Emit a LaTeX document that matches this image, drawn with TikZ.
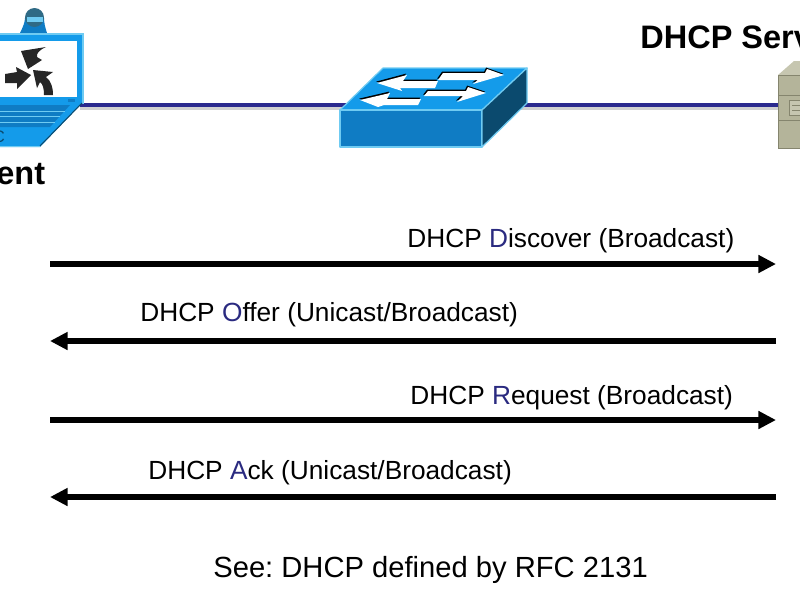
\documentclass[tikz,border=0pt]{standalone}
\usepackage{fontspec}
\setmainfont{Liberation Sans}
\usetikzlibrary{arrows.meta}
\definecolor{linknavy}{HTML}{2B2A8E}
\definecolor{letternavy}{HTML}{2A2A80}
\definecolor{ciscoblue}{HTML}{149BEA}
\definecolor{ciscofront}{HTML}{0F7CC4}
\definecolor{ciscoside}{HTML}{0B4A6E}
\definecolor{ciscoedge}{HTML}{6FCBF2}
\definecolor{camerahead}{HTML}{2F6A85}
\definecolor{serverbody}{HTML}{B4B49A}
\definecolor{servertop}{HTML}{C6C6B0}
\definecolor{serveredge}{HTML}{85856E}
\newcommand{\firstletter}[1]{\textcolor{letternavy}{#1}}
\frenchspacing
\begin{document}
\begin{tikzpicture}[
        x=0.02cm, y=-0.02cm,
        msgarrow/.style={black, line width=2.9pt, -{Triangle[length=10pt,width=9.7pt]}},
        msglabel/.style={anchor=base west, inner sep=0pt, font=\fontsize{14.95}{18}\selectfont},
        devicelabel/.style={anchor=base west, inner sep=0pt, font=\fontsize{18.5}{22}\selectfont\bfseries},
        devicebox/.style={draw=ciscoedge, line width=0.7pt, line join=round},
        switcharrow/.style={fill=white, preaction={fill=black, transform canvas={xshift=-0.5pt, yshift=0.8pt}}},
        serverbox/.style={fill=serverbody, draw=serveredge, line width=0.4pt}
    ]
    \useasboundingbox (0,0) rectangle (800,600);

    % ==========================================
    % LINK: client - switch - server
    % ==========================================
    \coordinate (clientport) at (80,105);
    \coordinate (serverport) at (778,105);
    \draw[black!18, line width=2pt] ([yshift=-1.8pt]clientport) -- ([yshift=-1.8pt]serverport);
    \draw[linknavy, line width=2.6pt] (clientport) -- (serverport);

    % ==========================================
    % CLIENT: laptop
    % ==========================================
    \begin{scope}
        % camera
        \fill[ciscofront] (20,33) .. controls (23,27) and (25,22) .. (25,18) -- (44,18) .. controls (44,22) and (45,27) .. (47,33) -- cycle;
        \fill[camerahead] (34.5,17.5) circle (9.5);
        \fill[ciscoedge] (27,17) rectangle (43,22);
        % screen
        \fill[ciscoblue] (0,33) -- (84,33) -- (84,104) -- (0,104) -- cycle;
        \fill[ciscoedge] (0,33) rectangle (84,35);
        \fill[ciscoedge] (82,33) rectangle (84,104);
        \fill[white] (0,41) rectangle (77,97);
        \fill[ciscofront] (68,99) rectangle (75,102);
        \fill[black!85] (21,51) -- (46,47) .. controls (39,50) and (36,54) .. (37,57) -- (42,60) -- (28,69) -- cycle;
        \fill[black!85] (5,74) -- (17,72) -- (16,67) -- (31,75) -- (17,89) -- (17,83) -- (5,83) -- cycle;
        \fill[black!85] (33,70) -- (53,72) -- (46,77) .. controls (51,81) and (53,87) .. (53,95) -- (44,95) .. controls (44,89) and (43,84) .. (40,82) -- (37,88) -- cycle;
        % keyboard and base
        \fill[ciscoblue] (0,103) -- (82,103) -- (40,147) -- (0,147) -- cycle;
        \fill[ciscofront] (0,105) -- (70,105) -- (50,127) -- (0,127) -- cycle;
        \draw[ciscoedge, line width=0.5pt] (0,111) -- (65,111) (0,116) -- (60,116) (0,122) -- (55,122);
        \draw[ciscoside, line width=0.6pt] (40,146) -- (82,103);
        \draw[ciscoedge, line width=0.6pt] (0,146.5) -- (40,146.5);
        \node[anchor=base, inner sep=0pt, text=ciscoside, font=\fontsize{9.5}{11}\selectfont] (laptoptag) at (-1,142) {C};
    \end{scope}
    \node[devicelabel] (clientlabel) at (-4,184) {ent};

    % ==========================================
    % SWITCH
    % ==========================================
    \begin{scope}
        \filldraw[devicebox, fill=ciscoblue] (340,110) -- (383,68) -- (527,68) -- (482,110) -- cycle;
        \filldraw[devicebox, fill=ciscofront] (340,110) rectangle (482,147);
        \filldraw[devicebox, fill=ciscoside] (482,110) -- (527,68) -- (527,103) -- (482,147) -- cycle;
        % arrows on top
        \path[switcharrow] (377,83) -- (407,75) -- (403,81) -- (438,81) -- (435,88) -- (400,88) -- (402,91) -- cycle;
        \path[switcharrow] (504,75) -- (487,69) -- (485,73) -- (443,73) -- (438,80) -- (478,80) -- (473,84) -- cycle;
        \path[switcharrow] (360,100) -- (390,93) -- (387,99) -- (421,99) -- (418,105) -- (384,105) -- (378,107) -- cycle;
        \path[switcharrow] (486,93) -- (468,87) -- (466,91) -- (428,91) -- (424,96) -- (463,96) -- (457,102) -- cycle;
    \end{scope}

    % ==========================================
    % SERVER
    % ==========================================
    \node[devicelabel] (serverlabel) at (640,48) {DHCP Serv};
    \begin{scope}
        \fill[servertop] (778,75) -- (794,61) -- (800,61) -- (800,75) -- cycle;
        \draw[serverbox] (778,75) rectangle (801,95);
        \draw[serverbox] (778,95) rectangle (801,120);
        \draw[serverbox] (778,120) rectangle (801,148);
        \draw[serveredge, fill=servertop, line width=0.5pt] (789,100) rectangle (801,115);
        \draw[serveredge, line width=0.5pt] (792,105) -- (801,105) (792,110) -- (801,110);
    \end{scope}

    % ==========================================
    % ROW 1: Discover
    % ==========================================
    \coordinate (clientA) at (50,264);
    \coordinate (serverA) at (776,264);
    \draw[msgarrow] (clientA) -- (serverA);
    \node[msglabel] (labelA) at (407,247) {DHCP \firstletter{D}iscover (Broadcast)};

    % ==========================================
    % ROW 2: Offer
    % ==========================================
    \coordinate (clientB) at (50,341);
    \coordinate (serverB) at (776,341);
    \draw[msgarrow] (serverB) -- (clientB);
    \node[msglabel] (labelB) at (140,321) {DHCP \firstletter{O}ffer (Unicast/Broadcast)};

    % ==========================================
    % ROW 3: Request
    % ==========================================
    \coordinate (clientC) at (50,420);
    \coordinate (serverC) at (776,420);
    \draw[msgarrow] (clientC) -- (serverC);
    \node[msglabel] (labelC) at (410,404) {DHCP \firstletter{R}equest (Broadcast)};

    % ==========================================
    % ROW 4: Ack
    % ==========================================
    \coordinate (clientD) at (50,497);
    \coordinate (serverD) at (776,497);
    \draw[msgarrow] (serverD) -- (clientD);
    \node[msglabel] (labelD) at (148,479) {DHCP \firstletter{A}ck (Unicast/Broadcast)};

    \node[msglabel, font=\fontsize{16.6}{20}\selectfont] (seenote) at (213,577) {See: DHCP defined by RFC 2131};

\end{tikzpicture}
\end{document}
